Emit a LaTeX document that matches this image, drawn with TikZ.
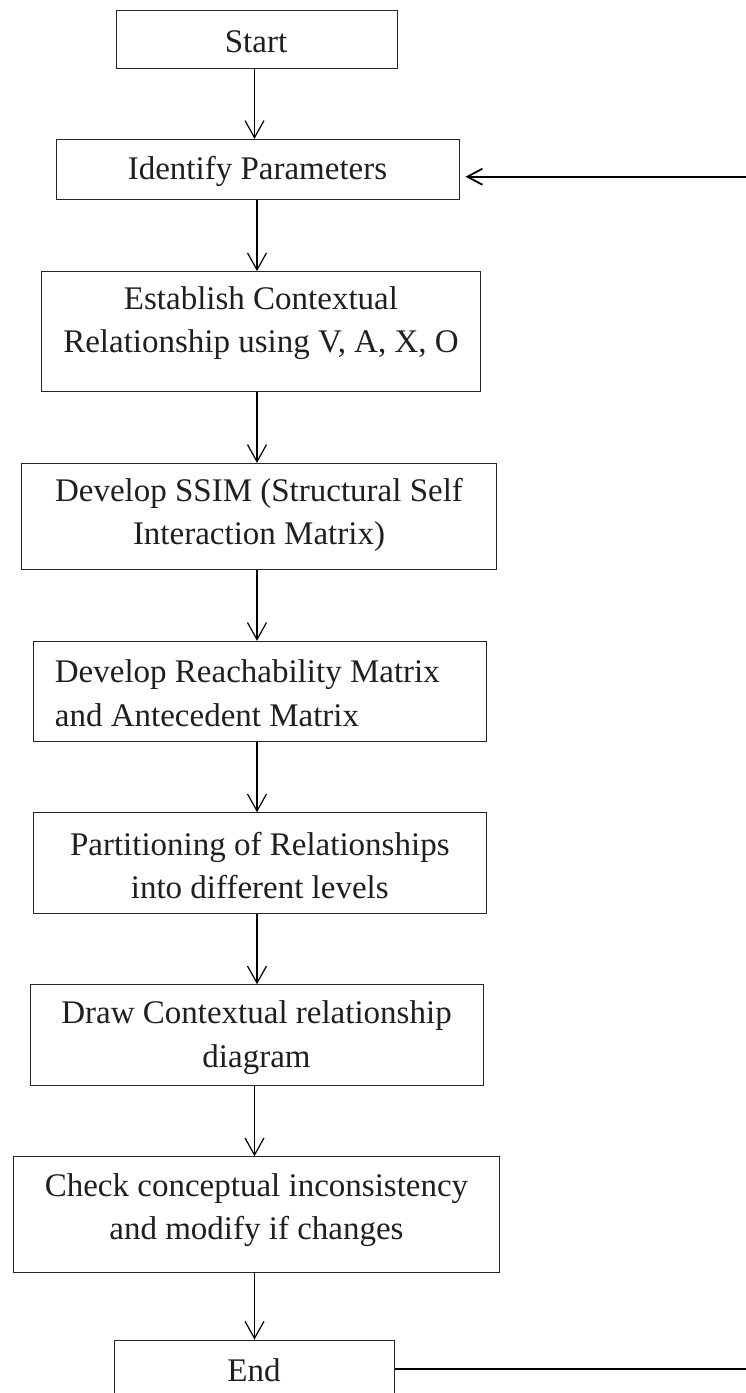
\documentclass[tikz,border=0pt]{standalone}
\usepackage{fontspec}
\setmainfont{Liberation Serif}
\usetikzlibrary{arrows.meta}
\begin{document}
\begin{tikzpicture}[x=1pt,y=-1pt,
  box/.style={draw=black!85, line width=1pt, rectangle, inner sep=0pt},
  txt/.style={font=\fontsize{33}{43.3}\selectfont, text=black!88, align=center, inner sep=0pt},
  arr/.style={line width=1.2pt, -{Straight Barb[length=17pt,width=19pt]}},
  feed/.style={line width=1.8pt}
]
\useasboundingbox (0,0) rectangle (746,1393);

% process boxes
\node[box, minimum width=281pt, minimum height=58pt]  (start) at (257,39.7) {};
\node[box, minimum width=403pt, minimum height=60pt]  (ident) at (257.5,169.3) {};
\node[box, minimum width=438.5pt, minimum height=120pt] (estab) at (261.2,331.6) {};
\node[box, minimum width=475pt, minimum height=105.7pt] (ssim) at (258.8,516.2) {};
\node[box, minimum width=453pt, minimum height=100pt] (reach) at (259.8,691.3) {};
\node[box, minimum width=453pt, minimum height=100.6pt] (part) at (259.8,863) {};
\node[box, minimum width=453pt, minimum height=100.3pt] (draw) at (256.5,1034.9) {};
\node[box, minimum width=486pt, minimum height=116pt] (check) at (256.5,1214.7) {};
\node[box, minimum width=280pt, minimum height=60pt] (end) at (254,1370) {};

% box captions
\node[txt] (start-t) at (256,41.7) {Start};
\node[txt] (ident-t) at (257.5,171.7) {Identify Parameters};
\node[txt] (estab-t) at (261,323.3) {Establish Contextual\\Relationship using V, A, X, O};
\node[txt] (ssim-t) at (259,515) {Develop SSIM (Structural Self\\Interaction Matrix)};
\node[txt, align=left, anchor=west] (reach-t) at (54.7,693.3) {Develop Reachability Matrix\\and Antecedent Matrix};
\node[txt] (part-t) at (259.8,865.8) {Partitioning of Relationships\\into different levels};
\node[txt] (draw-t) at (256.5,1037.5) {Draw Contextual relationship\\diagram};
\node[txt] (check-t) at (256.5,1210) {Check conceptual inconsistency\\and modify if changes};
\node[txt] (end-t) at (254,1370) {End};

% main flow
\coordinate (spine) at (257,0);
\coordinate (spineB) at (254.5,0);
\draw[arr] (spineB |- start.south) -- (spineB |- ident.north);
\draw[arr] (spine |- ident.south) -- (spine |- estab.north);
\draw[arr] (spine |- estab.south) -- (spine |- ssim.north);
\draw[arr] (spine |- ssim.south) -- (spine |- reach.north);
\draw[arr] (spine |- reach.south) -- (spine |- part.north);
\draw[arr] (spine |- part.south) -- (spine |- draw.north);
\draw[arr] (spineB |- draw.south) -- (spineB |- check.north);
\draw[arr] (spineB |- check.south) -- (spineB |- end.north);

% feedback lines at the right edge
\coordinate (fbR) at (746,176.7);
\draw[feed, -{Straight Barb[length=15pt,width=16pt]}, shorten >=6pt] (fbR) -- (fbR -| ident.east);
\coordinate (endR) at (746,1369);
\draw[feed] (end.east |- endR) -- (endR);
\end{tikzpicture}
\end{document}
